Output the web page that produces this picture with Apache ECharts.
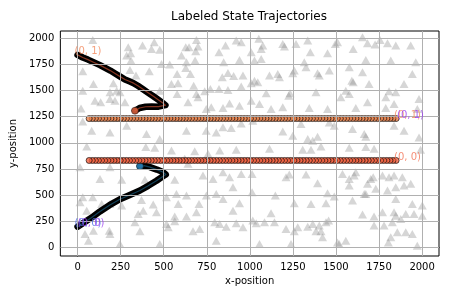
<!DOCTYPE html>
<html><head><meta charset="utf-8">
<script src="https://cdn.jsdelivr.net/npm/echarts@6/dist/echarts.min.js"></script>
<style>html,body{margin:0;padding:0;background:#fff}#c{width:450px;height:300px}</style>
</head><body><div id="c"></div>
<script>
const xTicks = [0, 250, 500, 750, 1000, 1250, 1500, 1750, 2000];
const yTicks = [0, 250, 500, 750, 1000, 1250, 1500, 1750, 2000];

// background reference points (gray triangles)
const triX = [294,308,377,445,429,477,628,647,690,699,686,821,859,921,950,285,310,487,535,632,682,848,940,603,30,304,339,416,578,628,655,873,906,960,840,92,208,227,188,246,477,545,583,674,690,738,771,821,873,950,30,101,134,188,217,275,578,641,699,747,776,844,882,940,20,30,82,188,285,400,477,632,747,805,844,892,950,88,
1052,1075,1066,1191,1201,1268,1336,1351,1451,1496,1509,1600,1654,1683,1727,1756,1799,1847,1934,1818,1963,1673,1577,1461,1393,1403,1316,1326,1258,1249,1162,1172,1114,1027,1066,1008,1027,1046,1008,1095,1233,1226,1384,1528,1557,1577,1592,1600,1654,1692,1789,1808,1847,1895,1943,1982,1008,1056,1123,1191,1345,1451,1615,1683,1789,1837,1972,1017,1191,1249,1297,1336,1365,1393,1461,1490,1596,1664,1673,1837,1895,1982,
53,396,448,545,680,757,825,921,14,188,622,641,728,786,844,882,902,950,130,256,391,564,30,88,14,53,140,188,256,371,439,516,574,632,584,705,748,805,844,902,940,352,381,458,564,632,690,796,825,863,921,333,362,516,526,564,43,92,184,188,63,670,709,805,246,477,960,
1114,1307,1355,1413,1577,1673,1721,1991,1013,1210,1229,1326,1393,1538,1577,1606,1615,1577,1702,1683,1716,1770,1808,1837,1885,1934,1895,1847,1799,1731,1673,1013,1148,1258,1355,1442,1451,1490,1596,1664,1847,1943,2001,1123,1017,1037,1085,1143,1210,1258,1278,1336,1365,1403,1413,1442,1457,1384,1422,1509,1519,1557,1654,1721,1721,1770,1779,1827,1837,1847,1876,1905,1953,2001,1856,1905,1943,1818,1804,1056,1239,1972];
const triY = [1913,1856,1929,1961,1897,1888,1913,1913,1983,1920,1875,1865,1929,1977,1961,1833,1786,1754,1747,1770,1786,1770,1792,1833,1683,1696,1642,1683,1658,1715,1658,1668,1639,1642,1626,1562,1569,1498,1483,1483,1498,1562,1569,1546,1467,1492,1514,1514,1505,1537,1498,1403,1387,1419,1403,1387,1467,1387,1435,1323,1339,1333,1377,1355,1329,1205,1116,1100,1164,1084,1036,1116,1116,1100,1148,1141,1186,1981,
1993,1929,1897,1945,1919,1945,1977,1865,1856,1945,1961,1897,2009,1951,1939,1983,1951,1929,1929,1786,1770,1792,1722,1690,1664,1642,1770,1722,1690,1664,1658,1626,1642,1786,1801,1865,1594,1578,1569,1473,1473,1451,1483,1435,1498,1467,1594,1578,1674,1562,1435,1492,1483,1562,1658,1419,1403,1371,1323,1339,1333,1323,1333,1387,1333,1371,1323,1211,1109,1068,1180,1036,1020,1058,1195,1164,1132,1084,1058,1164,1116,1052,
966,960,953,928,921,896,928,934,768,768,848,800,688,656,720,672,577,704,656,647,647,647,481,481,433,353,417,417,401,455,411,481,513,497,417,417,497,513,465,353,424,321,353,337,296,296,337,242,226,200,232,242,156,226,194,251,130,162,162,130,66,156,178,66,34,34,194,
944,934,934,966,953,960,944,934,704,672,698,698,615,704,656,688,720,593,656,609,672,688,672,688,672,609,593,577,545,561,513,529,497,424,417,424,519,487,449,513,465,417,401,328,258,232,242,242,178,156,194,200,226,210,156,242,258,156,98,50,34,66,315,296,210,337,210,242,337,305,274,321,321,305,146,146,130,98,50,34,34,18];

// trajectory 1 (label (0, 1)), dense path
const trajA = [[0,1840],[30,1815],[60,1795],[95,1768],[130,1742],[160,1716],[190,1690],[220,1660],[250,1630],[275,1605],[300,1588],[325,1570],[350,1545],[380,1512],[410,1478],[440,1445],[470,1410],[495,1380],[510,1360],[500,1350],[470,1346],[430,1347],[395,1345],[360,1333],[333,1307]];
// trajectory 2 (label (0, 0)), dense path
const trajB = [[0,200],[35,238],[80,285],[130,345],[185,405],[246,462],[300,500],[362,545],[410,590],[458,638],[495,680],[512,698],[495,722],[460,745],[420,768],[385,782],[362,778]];
// long straight trajectories (start at right end)
const trackX = [1849,1831,1813,1795,1777,1759,1741,1723,1705,1687,1669,1651,1633,1615,1597,1579,1561,1543,1525,1507,1489,1471,1453,1435,1417,1399,1381,1363,1345,1327,1309,1291,1273,1255,1237,1219,1201,1183,1165,1147,1129,1111,1093,1075,1057,1039,1021,1003,985,967,949,931,913,895,877,859,841,823,805,787,769,751,733,715,697,679,661,643,625,607,589,571,553,535,517,499,481,463,445,427,409,391,373,355,337,319,301,283,265,247,229,211,193,175,157,139,121,103,85,67];
const trackTopY = 1232;
const trackMidY = 832;

// start labels
const labelText = ['(0, 1)', '(0, 1)', '(0, 0)', '(0, 1)', '(0, 0)', '(0, 0)'];
const labelX = [1849, 1849, 1849, 0, 0, 0];
const labelY = [1232, 1232, 832, 1840, 200, 200];
const labelColor = ['#f28a5e', '#9a3df0', '#f37356', '#f28a5e', '#4d6ee6', '#9a3df0'];
const labelShift = [-2, 1, -2, -3, -3, 0];

const FONT = 'DejaVu Sans';
const chart = echarts.init(document.getElementById('c'), null, {renderer: 'canvas'});

const gridLines = xTicks.map(v => ({xAxis: v})).concat(yTicks.map(v => ({yAxis: v})));
const plain = v => String(v);

const option = {
  animation: false,
  grid: {left: 59, right: 11, top: 31, bottom: 44, show: true, borderColor: '#000', borderWidth: 1, backgroundColor: 'transparent'},
  graphic: [{type: 'text', x: 249, y: 17, style: {text: 'Labeled State Trajectories', font: '12px "DejaVu Sans"', fill: '#000', textAlign: 'center', textVerticalAlign: 'middle'}}],
  xAxis: {
    type: 'value', min: -100, max: 2098,
    axisLine: {show: true, lineStyle: {color: '#000', width: 1}},
    axisTick: {show: true, length: 3.5, customValues: xTicks, lineStyle: {color: '#000', width: 1}},
    axisLabel: {customValues: xTicks, formatter: plain, fontFamily: FONT, fontSize: 10, color: '#000', margin: 6},
    splitLine: {show: false},
    name: 'x-position', nameLocation: 'middle', nameGap: 20,
    nameTextStyle: {fontFamily: FONT, fontSize: 10, color: '#000'}
  },
  yAxis: {
    type: 'value', min: -80, max: 2068,
    axisLine: {show: true, lineStyle: {color: '#000', width: 1}},
    axisTick: {show: true, length: 3.5, customValues: yTicks, lineStyle: {color: '#000', width: 1}},
    axisLabel: {customValues: yTicks, formatter: plain, fontFamily: FONT, fontSize: 10, color: '#000', margin: 6},
    splitLine: {show: false},
    name: 'y-position', nameLocation: 'middle', nameGap: 36, nameRotate: 90,
    nameTextStyle: {fontFamily: FONT, fontSize: 10, color: '#000'}
  },
  series: [
    {type: 'scatter', data: [], silent: true, z: 1,
     markLine: {silent: true, symbol: ['none', 'none'], label: {show: false},
       lineStyle: {color: '#b0b0b0', width: 1, type: 'solid'}, emphasis: {disabled: true}, data: gridLines}},
    {type: 'scatter', symbol: 'triangle', symbolSize: [9, 8], silent: true, z: 2,
     itemStyle: {color: 'rgba(128,128,128,0.4)'},
     data: triX.map((x, i) => [x, triY[i]])},
    // trajectory A
    {type: 'line', data: trajA, showSymbol: false, symbol: 'none', smooth: false, silent: true, z: 3,
     lineStyle: {color: '#000', width: 6.5, cap: 'round', join: 'round'}},
    {type: 'line', data: trajA, showSymbol: false, symbol: 'none', silent: true, z: 3,
     lineStyle: {color: '#a8442a', width: 1.2, opacity: 0.8, cap: 'round', join: 'round'}},
    {type: 'scatter', data: [trajA[trajA.length - 1]], symbol: 'circle', symbolSize: 7, silent: true, z: 3,
     itemStyle: {color: '#ef6a42', borderColor: '#000', borderWidth: 0.6}},
    // trajectory B
    {type: 'line', data: trajB, showSymbol: false, symbol: 'none', silent: true, z: 3,
     lineStyle: {color: '#000', width: 6.5, cap: 'round', join: 'round'}},
    {type: 'line', data: trajB, showSymbol: false, symbol: 'none', silent: true, z: 3,
     lineStyle: {color: '#15506e', width: 1.2, opacity: 0.8, cap: 'round', join: 'round'}},
    {type: 'scatter', data: [trajB[trajB.length - 1]], symbol: 'circle', symbolSize: 7, silent: true, z: 3,
     itemStyle: {color: '#2d8fcc', borderColor: '#000', borderWidth: 0.6}},
    // straight tracks
    {type: 'scatter', data: trackX.map(x => [x, trackTopY]), symbol: 'circle', symbolSize: 6, silent: true, z: 3,
     itemStyle: {color: '#e8824c', borderColor: '#000', borderWidth: 0.8}},
    {type: 'scatter', data: trackX.map(x => [x, trackMidY]), symbol: 'circle', symbolSize: 6, silent: true, z: 3,
     itemStyle: {color: '#f2603e', borderColor: '#000', borderWidth: 0.8}},
    // labels
    {type: 'scatter', symbolSize: 0, silent: true, z: 5,
     label: {show: true, position: 'right', distance: 0, formatter: '{b}', fontFamily: FONT, fontSize: 10},
     data: labelText.map((t, i) => ({name: t, value: [labelX[i], labelY[i]],
       label: {color: labelColor[i], offset: [labelShift[i], -3]}}))}
  ]
};
chart.setOption(option);
</script></body></html>
